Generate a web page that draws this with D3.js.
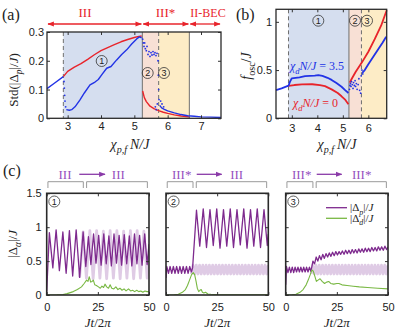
<!DOCTYPE html>
<html>
<head>
<meta charset="utf-8">
<script src="https://cdn.jsdelivr.net/npm/d3@7/dist/d3.min.js"></script>
<style>
body { margin: 0; background: #fff; }
svg text { font-family: "Liberation Sans", Arial, sans-serif; fill: #222; }
.serif { font-family: "Liberation Serif", "Times New Roman", serif; }
</style>
</head>
<body>
<svg id="fig" width="396" height="334"></svg>
<script>
// ---------------- DATA ----------------

// phase boundaries (chi_pf N / J)
const bounds = [2.87, 5.24, 5.73, 6.65];
const phasesA = ['III', 'III*', 'II-BEC'];

// panel (a): Std(|Delta_p|/J)
const stdRed1 = [[2.87,0.145],[3.0,0.163],[3.2,0.178],[3.4,0.19],[3.6,0.205],[3.8,0.221],[4.0,0.235],[4.2,0.246],[4.4,0.256],[4.6,0.266],[4.8,0.274],[5.0,0.281],[5.1,0.284],[5.22,0.286]];
const stdRed2 = [[5.25,0.095],[5.3,0.072],[5.36,0.058],[5.47,0.042],[5.6,0.033],[5.75,0.026],[5.87,0.021],[6.0,0.017],[6.2,0.012],[6.4,0.008],[6.65,0.005]];
const stdBlue1 = [[2.38,0.103],[2.6,0.122],[2.87,0.145]];
const stdBlue2 = [[2.96,0.03],[3.05,0.028],[3.12,0.03],[3.22,0.04],[3.37,0.064],[3.5,0.088],[3.67,0.116],[3.82,0.126],[3.92,0.135],[4.02,0.151],[4.17,0.174],[4.3,0.18],[4.47,0.203],[4.62,0.222],[4.77,0.238],[4.92,0.258],[5.07,0.276],[5.15,0.283],[5.22,0.28]];
const stdBlue3 = [[5.76,0.045],[5.82,0.036],[5.9,0.031],[6.0,0.026],[6.2,0.019],[6.4,0.013],[6.6,0.009],[6.8,0.007],[7.0,0.005],[7.3,0.004],[7.6,0.003]];
const stdBlueDots = [[2.89,0.128],[2.9,0.105],[2.91,0.08],[2.92,0.06],[2.94,0.04],[5.25,0.275],[5.27,0.262],[5.29,0.25],[5.31,0.262],[5.33,0.242],[5.36,0.235],[5.38,0.25],[5.41,0.222],[5.44,0.232],[5.47,0.215],[5.5,0.228],[5.53,0.22],[5.56,0.232],[5.59,0.222],[5.62,0.228],[5.65,0.218],[5.68,0.226],[5.71,0.2],[5.72,0.15],[5.73,0.1],[5.74,0.065],[5.63,0.04],[5.66,0.03],[5.69,0.05],[5.79,0.06],[5.83,0.05],[5.88,0.04]];

// panel (b): f_osc / J
const fRed1 = [[2.87,0.335],[3.1,0.345],[3.4,0.351],[3.8,0.353],[4.1,0.345],[4.3,0.333],[4.56,0.3],[4.8,0.262],[4.95,0.228],[5.1,0.19],[5.22,0.145]];
const fRed2 = [[5.27,0.37],[5.35,0.41],[5.5,0.48],[5.75,0.58],[6.0,0.69],[6.25,0.82],[6.5,0.96],[6.72,1.12]];
const fBlue1 = [[2.38,0.292],[2.6,0.31],[2.87,0.338],[2.93,0.38],[3.0,0.415],[3.15,0.42],[3.3,0.425],[3.52,0.437],[3.7,0.44],[3.9,0.442],[4.04,0.447],[4.2,0.44],[4.4,0.42],[4.56,0.398],[4.75,0.365],[4.95,0.327],[5.1,0.29],[5.22,0.262]];
const fBlue2 = [[5.76,0.47],[5.86,0.5],[6.0,0.56],[6.2,0.64],[6.4,0.72],[6.55,0.78],[6.7,0.845]];
const fBlueDots = [[5.26,0.3],[5.28,0.34],[5.3,0.36],[5.32,0.33],[5.34,0.38],[5.37,0.35],[5.4,0.31],[5.42,0.37],[5.45,0.34],[5.48,0.39],[5.5,0.33],[5.53,0.36],[5.56,0.3],[5.6,0.35],[5.63,0.41],[5.66,0.29],[5.7,0.26],[5.72,0.44],[5.75,0.5],[5.78,0.46]];
const curveLabels = ['3.5', '0'];

// panel (c): time traces, Jt/2pi vs |Delta|/J
const c1Dark = [[0,0.05],[1.3,0.92],[3.0,0.4],[4.6,0.96],[6.2,0.36],[7.9,0.93],[9.5,0.32],[11.1,0.95],[12.7,0.28],[14.4,0.96],[16.1,0.26],[17.8,0.93],
  [19.1,0.42],[20.4,0.86],[21.6,0.45],[22.9,0.9],[24.1,0.47],[25.4,0.88],[26.6,0.44],[27.9,0.9],[29.1,0.46],[30.4,0.87],[31.6,0.43],[32.9,0.9],[34.1,0.47],[35.4,0.88],[36.6,0.44],[37.9,0.89],[39.1,0.46],[40.4,0.87],[41.6,0.43],[42.9,0.9],[44.1,0.46],[45.4,0.88],[46.6,0.44],[47.9,0.9],[49.1,0.45],[50,0.75]];
const c1Light = [[16.1,0.26],[17.8,0.93],[19.4,0.25],[21.1,0.95],[22.7,0.24],[24.4,0.95],[26.0,0.25],[27.7,0.94],[29.3,0.24],[31.0,0.95],[32.6,0.25],[34.3,0.95],[35.9,0.24],[37.6,0.94],[39.2,0.25],[40.9,0.95],[42.5,0.24],[44.2,0.95],[45.8,0.25],[47.5,0.94],[49.1,0.25],[50,0.6]];
const c1Green = [[0,0],[5,0.002],[8,0.008],[10,0.02],[13,0.05],[15,0.08],[17,0.12],[18.3,0.17],[19.5,0.22],[20.2,0.2],[20.8,0.27],[21.5,0.19],[22.2,0.2],[22.8,0.22],[23.5,0.15],[24.3,0.14],[25.3,0.12],[26.2,0.1],[27,0.13],[27.8,0.11],[28.5,0.16],[29.3,0.12],[30.2,0.1],[31,0.15],[31.8,0.1],[32.8,0.09],[33.8,0.12],[34.8,0.08],[35.8,0.1],[36.8,0.07],[37.8,0.09],[38.8,0.06],[40,0.09],[41,0.06],[42,0.07],[43,0.05],[44,0.07],[45,0.05],[46,0.06],[47,0.04],[48,0.06],[49,0.05],[50,0.05]];

const c2Dark = [[0,0.25],[0.4,0.42],[1.2,0.32],[2.0,0.42],[2.8,0.32],[3.6,0.42],[4.4,0.32],[5.2,0.42],[6.0,0.32],[6.8,0.42],[7.6,0.32],[8.4,0.42],[9.2,0.32],[10.0,0.42],[10.8,0.32],[11.6,0.42],[12.4,0.34],[13.0,0.4],
  [14.9,1.25],[16.5,0.72],[18.2,1.27],[19.8,0.7],[21.5,1.26],[23.1,0.73],[24.8,1.27],[26.4,0.69],[28.1,1.26],[29.7,0.72],[31.4,1.27],[33.0,0.7],[34.7,1.26],[36.3,0.74],[38.0,1.27],[39.6,0.69],[41.3,1.26],[42.9,0.72],[44.6,1.27],[46.2,0.7],[47.9,1.26],[49.5,0.73],[50,0.9]];
const c2Green = [[0,0],[4,0.003],[6,0.01],[8,0.04],[9.5,0.08],[10.5,0.14],[11.5,0.22],[12.5,0.3],[13.3,0.33],[14,0.3],[14.7,0.2],[15.3,0.1],[16,0.05],[16.6,0.07],[17.2,0.08],[17.8,0.04],[18.5,0.03],[19.3,0.04],[20.5,0.015],[22,0.01],[25,0.005],[50,0.003]];

const c3Dark = [[0,0.15],[0.4,0.42],[1.1,0.33],[1.8,0.41],[2.5,0.33],[3.2,0.41],[3.9,0.33],[4.6,0.41],[5.3,0.34],[6.0,0.41],[6.7,0.34],[7.4,0.41],[8.1,0.34],[8.8,0.41],[9.5,0.34],[10.2,0.41],[10.9,0.34],[11.6,0.41],[12.3,0.35],[12.8,0.42],
  [13.3,0.5],[14.1,0.46],[14.9,0.56],[15.7,0.5],[16.5,0.58],[17.3,0.52],[18.1,0.6],[18.9,0.54],[19.7,0.61],[20.5,0.56],[21.3,0.62],[22.1,0.57],[22.9,0.63],[23.7,0.58],[24.5,0.64],[25.3,0.59],[26.1,0.64],[26.9,0.6],[27.7,0.65],[28.5,0.6],[29.3,0.66],[30.1,0.61],[30.9,0.66],[31.7,0.61],[32.5,0.67],[33.3,0.62],[34.1,0.67],[34.9,0.62],[35.7,0.68],[36.5,0.63],[37.3,0.68],[38.1,0.63],[38.9,0.69],[39.7,0.64],[40.5,0.69],[41.3,0.64],[42.1,0.7],[42.9,0.65],[43.7,0.7],[44.5,0.65],[45.3,0.71],[46.1,0.66],[46.9,0.71],[47.7,0.66],[48.5,0.72],[49.3,0.67],[50,0.71]];
const c3Green = [[0,0],[3,0.003],[5,0.01],[7,0.04],[8.5,0.08],[10,0.15],[11,0.22],[12,0.3],[12.8,0.37],[13.5,0.35],[14.3,0.27],[15,0.2],[15.8,0.22],[16.8,0.24],[17.8,0.2],[19,0.17],[20,0.19],[21,0.2],[22,0.17],[23.5,0.16],[25,0.17],[26,0.17],[27.5,0.15],[30,0.14],[33,0.13],[36,0.12],[40,0.11],[45,0.1],[50,0.09]];

// unquenched reference (faint band), shared by (c2) and (c3)
const refBand = [[12.4,0.31],[13.2,0.44],[14.0,0.31],[14.8,0.44],[15.6,0.31],[16.4,0.44],[17.2,0.31],[18.0,0.44],[18.8,0.31],[19.6,0.44],[20.4,0.31],[21.2,0.44],[22.0,0.31],[22.8,0.44],[23.6,0.31],[24.4,0.44],[25.2,0.31],[26.0,0.44],[26.8,0.31],[27.6,0.44],[28.4,0.31],[29.2,0.44],[30.0,0.31],[30.8,0.44],[31.6,0.31],[32.4,0.44],[33.2,0.31],[34.0,0.44],[34.8,0.31],[35.6,0.44],[36.4,0.31],[37.2,0.44],[38.0,0.31],[38.8,0.44],[39.6,0.31],[40.4,0.44],[41.2,0.31],[42.0,0.44],[42.8,0.31],[43.6,0.44],[44.4,0.31],[45.2,0.44],[46.0,0.31],[46.8,0.44],[47.6,0.31],[48.4,0.44],[49.2,0.31],[50.0,0.44]];

const quenchT = [18.7, 14.0, 14.1];
const phaseFrom = ['III', 'III*', 'III*'];
const phaseTo = ['III', 'III', 'III*'];

// tick labels
const xTicksA = [3, 4, 5, 6, 7];
const yTicksA = [0, 0.1, 0.2, 0.3];
const yLabelsA = ['0', '0.1', '0.2', '0.3'];
const xTicksB = [3, 4, 5, 6];
const yTicksB = [0, 0.5, 1];
const yLabelsB = ['0', '0.5', '1'];
const xTicksC = [0, 25, 50];
const yTicksC = [0, 0.5, 1, 1.5];
const yLabelsC = ['0', '0.5', '1', '1.5'];

// ---------------- STYLE ----------------
const RED = '#e8242b', BLUE = '#2233e6';
const PURPLE = '#7e2a8e', LIGHTP = '#dfcbe5', GREEN = '#79b843', PTEXT = '#9650c0';
const FILLS = ['#d5deef', '#f8e0d5', '#fdecc6'];

const svg = d3.select('#fig');
const defs = svg.append('defs');
function marker(id, color) {
	defs.append('marker')
		.attr('id', id)
		.attr('viewBox', '0 0 10 10')
		.attr('refX', 9).attr('refY', 5)
		.attr('markerWidth', 5).attr('markerHeight', 5)
		.attr('orient', 'auto-start-reverse')
		.append('path').attr('d', 'M0,1L10,5L0,9z').attr('fill', color);
}
marker('ahR', RED);
marker('ahP', '#8a3aa8');

// rich text: parts = [{t, it, sub}]
function rich(sel, parts, fs) {
	let shift = 0;
	parts.forEach(p => {
		const ts = sel.append('tspan').text(p.t);
		const target = p.sub ? fs * 0.3 : 0;
		if (target !== shift) { ts.attr('dy', target - shift); shift = target; }
		if (p.sub) ts.attr('font-size', fs * 0.72);
		if (p.it) ts.attr('font-style', 'italic');
	});
	return sel;
}

function axes(g, x, y, xt, xl, yt, yl, padX, padY) {
	const b = g.append('g').attr('transform', `translate(0,${y.range()[0]})`)
		.call(d3.axisBottom(x).tickValues(xt).tickSize(-3).tickPadding(padX)
			.tickFormat(xl ? (d, i) => xl[i] : ''));
	const t = g.append('g').attr('transform', `translate(0,${y.range()[1]})`)
		.call(d3.axisTop(x).tickValues(xt).tickSize(-3).tickFormat(''));
	const l = g.append('g').attr('transform', `translate(${x.range()[0]},0)`)
		.call(d3.axisLeft(y).tickValues(yt).tickSize(-3).tickPadding(padY)
			.tickFormat(yl ? (d, i) => yl[i] : ''));
	const r = g.append('g').attr('transform', `translate(${x.range()[1]},0)`)
		.call(d3.axisRight(y).tickValues(yt).tickSize(-3).tickFormat(''));
	[b, t, l, r].forEach(a => {
		a.select('.domain').remove();
		a.selectAll('line').attr('stroke', '#333');
		a.selectAll('text').attr('font-size', 11).attr('fill', '#222')
			.style('font-family', '"Liberation Sans", Arial, sans-serif');
	});
}

function frame(g, x, y, w) {
	g.append('rect')
		.attr('x', x.range()[0]).attr('y', y.range()[1])
		.attr('width', x.range()[1] - x.range()[0])
		.attr('height', y.range()[0] - y.range()[1])
		.attr('fill', 'none').attr('stroke', '#2a2a2a').attr('stroke-width', w);
}

function circled(g, cx, cy, n) {
	g.append('circle').attr('cx', cx).attr('cy', cy).attr('r', 5.5)
		.attr('fill', 'none').attr('stroke', '#333').attr('stroke-width', 0.8);
	g.append('text').attr('x', cx).attr('y', cy + 3.3).attr('text-anchor', 'middle')
		.attr('font-size', 9).attr('fill', '#333').text(n);
}

function regions(g, x, y, x1, x2end) {
	const ends = [bounds[1], bounds[2], x2end];
	[bounds[0], bounds[1], bounds[2]].forEach((b, i) => {
		g.append('rect').attr('x', x(b)).attr('y', y.range()[1])
			.attr('width', x(ends[i]) - x(b))
			.attr('height', y.range()[0] - y.range()[1])
			.attr('fill', FILLS[i]);
	});
	const vl = (v, dash) => g.append('line')
		.attr('x1', x(v)).attr('x2', x(v))
		.attr('y1', y.range()[1]).attr('y2', y.range()[0])
		.attr('stroke', '#6f6f6f').attr('stroke-width', 1)
		.attr('stroke-dasharray', dash ? '4,3' : null);
	vl(bounds[0], true);
	vl(bounds[1], false);
	vl(bounds[2], true);
	if (x2end === bounds[3]) vl(bounds[3], false);
}

function draw(g, x, y, data, color, w, op) {
	g.append('path').datum(data)
		.attr('d', d3.line().x(d => x(d[0])).y(d => y(d[1])))
		.attr('fill', 'none').attr('stroke', color).attr('stroke-width', w)
		.attr('stroke-linejoin', 'round').attr('opacity', op || 1);
}
function dots(g, x, y, data, color) {
	g.selectAll(null).data(data).enter().append('circle')
		.attr('cx', d => x(d[0])).attr('cy', d => y(d[1])).attr('r', 0.9)
		.attr('fill', color);
}

const chiParts = [{t: 'χ', it: true}, {t: 'p,f', it: true, sub: true}, {t: '\u2009N/J', it: true}];

// ---------------- PANEL (a) ----------------
const xA = d3.scaleLinear().domain([2.38, 7.6]).range([47, 221]);
const yA = d3.scaleLinear().domain([0, 0.3]).range([118.3, 32]);
const gA = svg.append('g');
regions(gA, xA, yA, null, bounds[3]);
draw(gA, xA, yA, stdRed1, RED, 1.4);
draw(gA, xA, yA, stdRed2, RED, 1.4);
draw(gA, xA, yA, stdBlue1, BLUE, 1.4);
draw(gA, xA, yA, stdBlue2, BLUE, 1.4);
draw(gA, xA, yA, stdBlue3, BLUE, 1.4);
dots(gA, xA, yA, stdBlueDots, BLUE);
axes(gA, xA, yA, xTicksA, xTicksA.map(String), yTicksA, yLabelsA, 4, 3);
frame(gA, xA, yA, 1.3);
circled(gA, 101.7, 61, '1');
circled(gA, 147.7, 73, '2');
circled(gA, 164, 73, '3');

// phase arrows on top
const arrowEnds = [[xA.domain()[0], bounds[1]], [bounds[1], bounds[3]], [bounds[3], xA.domain()[1]]];
const phaseX = [85, 165.5, 208];
arrowEnds.forEach((e, i) => {
	gA.append('line')
		.attr('x1', xA(e[0]) + 1).attr('x2', xA(e[1]) - 1)
		.attr('y1', 24).attr('y2', 24)
		.attr('stroke', RED).attr('stroke-width', 1.3)
		.attr('marker-start', 'url(#ahR)').attr('marker-end', 'url(#ahR)');
	gA.append('text').attr('class', 'serif')
		.attr('x', phaseX[i]).attr('y', 17).attr('text-anchor', 'middle')
		.attr('font-size', i === 2 ? 12 : 13).style('fill', RED).text(phasesA[i]);
});

gA.append('text').attr('class', 'serif').attr('x', 2).attr('y', 20)
	.attr('font-size', 16).text('(a)');
rich(gA.append('text').attr('class', 'serif')
	.attr('transform', 'translate(18,80) rotate(-90)').attr('text-anchor', 'middle')
	.attr('font-size', 13),
	[{t: 'Std(|Δ'}, {t: 'p', it: true, sub: true}, {t: '|/'}, {t: 'J', it: true}, {t: ')'}], 13);
rich(gA.append('text').attr('class', 'serif')
	.attr('x', 130).attr('y', 149).attr('text-anchor', 'middle').attr('font-size', 14),
	chiParts, 14);

// ---------------- PANEL (b) ----------------
const xB = d3.scaleLinear().domain([2.38, 6.72]).range([276, 386.7]);
const yB = d3.scaleLinear().domain([0, 1.13]).range([118.3, 9.3]);
const gB = svg.append('g');
regions(gB, xB, yB, null, xB.domain()[1]);
draw(gB, xB, yB, fRed1, RED, 1.8);
draw(gB, xB, yB, fRed2, RED, 1.8);
draw(gB, xB, yB, fBlue1, BLUE, 1.8);
draw(gB, xB, yB, fBlue2, BLUE, 1.8);
dots(gB, xB, yB, fBlueDots, BLUE);
axes(gB, xB, yB, xTicksB, xTicksB.map(String), yTicksB, yLabelsB, 6, 4);
frame(gB, xB, yB, 1.3);
circled(gB, 318.3, 20.7, '1');
circled(gB, 355, 20.7, '2');
circled(gB, 367, 20.7, '3');

rich(gB.append('text').attr('class', 'serif').attr('x', 290).attr('y', 70)
	.attr('font-size', 12).style('fill', BLUE),
	[{t: 'χ', it: true}, {t: 'd', it: true, sub: true}, {t: 'N/J', it: true}, {t: ' = ' + curveLabels[0]}], 12);
rich(gB.append('text').attr('class', 'serif').attr('x', 293).attr('y', 107)
	.attr('font-size', 12).style('fill', RED),
	[{t: 'χ', it: true}, {t: 'd', it: true, sub: true}, {t: 'N/J', it: true}, {t: ' = ' + curveLabels[1]}], 12);

gB.append('text').attr('class', 'serif').attr('x', 236).attr('y', 20)
	.attr('font-size', 16).text('(b)');
rich(gB.append('text').attr('class', 'serif')
	.attr('transform', 'translate(251,66) rotate(-90)').attr('text-anchor', 'middle')
	.attr('font-size', 14),
	[{t: 'f', it: true}, {t: 'osc', sub: true}, {t: '/'}, {t: 'J', it: true}], 14);
rich(gB.append('text').attr('class', 'serif')
	.attr('x', 337).attr('y', 149).attr('text-anchor', 'middle').attr('font-size', 14),
	chiParts, 14);

// ---------------- PANEL (c) ----------------
svg.append('text').attr('class', 'serif').attr('x', 3).attr('y', 176)
	.attr('font-size', 16).text('(c)');

const cRanges = [[46.7, 149], [166, 268.3], [285.7, 388]];
const cDark = [c1Dark, c2Dark, c3Dark];
const cLight = [c1Light, refBand, refBand];
const cGreen = [c1Green, c2Green, c3Green];
const labelFrom = [65, 181.7, 301.7];
const arrowX = [[79.3, 105], [196.7, 221.7], [316.7, 341.7]];
const labelTo = [118.3, 236.7, 361.7];

cRanges.forEach((rg, i) => {
	const x = d3.scaleLinear().domain([0, 50]).range(rg);
	const y = d3.scaleLinear().domain([0, 1.5]).range([295, 193.3]);
	const g = svg.append('g');
	g.append('defs').append('clipPath').attr('id', 'clip' + i)
		.append('rect').attr('x', rg[0]).attr('y', 193.3)
		.attr('width', rg[1] - rg[0]).attr('height', 101.7);
	const pg = g.append('g').attr('clip-path', `url(#clip${i})`);
	draw(pg, x, y, cLight[i], LIGHTP, 2.8);
	draw(pg, x, y, cDark[i], PURPLE, 1.3);
	draw(pg, x, y, cGreen[i], GREEN, 1.1);
	axes(g, x, y, xTicksC, xTicksC.map(String), yTicksC, i === 0 ? yLabelsC : null, 8, 5);
	frame(g, x, y, 1.6);
	circled(g, rg[0] + 7.6, 201.5, String(i + 1));

	// brackets
	const tq = quenchT[i];
	[[0.6, tq - 0.8], [tq + 0.8, 49.2]].forEach(b => {
		g.append('path')
			.attr('d', `M${x(b[0])},188V181.7H${x(b[1])}V188`)
			.attr('fill', 'none').attr('stroke', '#9a9a9a').attr('stroke-width', 1);
	});
	g.append('text').attr('class', 'serif').attr('x', labelFrom[i]).attr('y', 178.5)
		.attr('text-anchor', 'middle').attr('font-size', 13).style('fill', PTEXT).text(phaseFrom[i]);
	g.append('text').attr('class', 'serif').attr('x', labelTo[i]).attr('y', 178.5)
		.attr('text-anchor', 'middle').attr('font-size', 13).style('fill', PTEXT).text(phaseTo[i]);
	g.append('line').attr('x1', arrowX[i][0]).attr('x2', arrowX[i][1])
		.attr('y1', 174.3).attr('y2', 174.3)
		.attr('stroke', '#8a3aa8').attr('stroke-width', 1.3)
		.attr('marker-end', 'url(#ahP)');

	rich(g.append('text').attr('class', 'serif')
		.attr('x', (rg[0] + rg[1]) / 2).attr('y', 327).attr('text-anchor', 'middle')
		.attr('font-size', 13),
		[{t: 'Jt', it: true}, {t: '/2'}, {t: 'π', it: true}], 13);
});

rich(svg.append('text').attr('class', 'serif')
	.attr('transform', 'translate(17,244) rotate(-90)').attr('text-anchor', 'middle')
	.attr('font-size', 13),
	[{t: '|Δ'}, {t: 'α', it: true, sub: true}, {t: '|/'}, {t: 'J', it: true}], 13);

// legend in (c3)
const legend = svg.append('g');
[[PURPLE, 'p', 207.7], [GREEN, 'd', 218.3]].forEach(l => {
	legend.append('line').attr('x1', 326).attr('x2', 347)
		.attr('y1', l[2]).attr('y2', l[2])
		.attr('stroke', l[0]).attr('stroke-width', 1.3);
	rich(legend.append('text').attr('class', 'serif').attr('x', 350).attr('y', l[2] + 3.5)
		.attr('font-size', 11),
		[{t: '|Δ'}, {t: l[1], it: true, sub: true}, {t: '|/'}, {t: 'J', it: true}], 11);
});
</script>
</body>
</html>
